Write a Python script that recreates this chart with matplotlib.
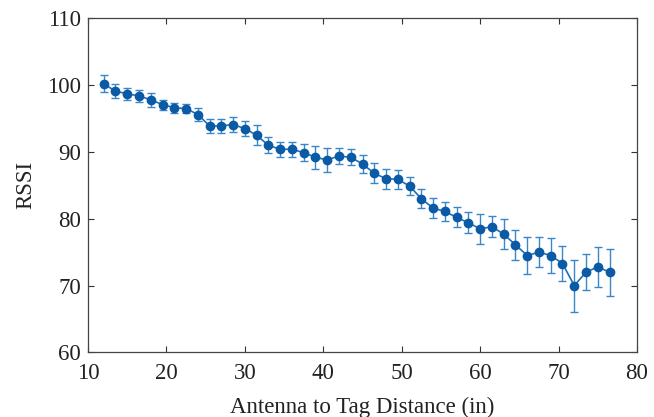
import matplotlib

matplotlib.use("Agg")
import matplotlib.pyplot as plt

# khoang cach (inch) va RSSI doc tu hinh goc
distance = [12 + 1.5 * i for i in range(44)]
rssi = [
    100.2, 99.1, 98.7, 98.4, 97.8, 97.1, 96.6, 96.5, 95.6, 93.9,
    93.9, 94.1, 93.5, 92.5, 91.0, 90.4, 90.4, 89.9, 89.2, 88.8,
    89.4, 89.2, 88.2, 86.8, 86.0, 85.9, 84.9, 83.0, 81.6, 81.1,
    80.2, 79.4, 78.5, 78.8, 77.7, 76.1, 74.5, 75.0, 74.5, 73.3,
    70.0, 72.0, 72.8, 72.0,
]
rssi_err = [
    1.25, 1.0, 0.9, 0.9, 1.0, 0.75, 0.75, 0.7, 0.95, 1.1,
    1.1, 1.1, 1.1, 1.5, 1.2, 1.1, 1.1, 1.3, 1.7, 1.75,
    1.2, 1.2, 1.3, 1.5, 1.5, 1.4, 1.35, 1.4, 1.5, 1.4,
    1.5, 1.55, 2.25, 1.55, 2.25, 2.25, 2.8, 2.25, 2.6, 2.55,
    3.9, 2.7, 3.0, 3.5,
]
x_ticks = [10, 20, 30, 40, 50, 60, 70, 80]
y_ticks = [60, 70, 80, 90, 100, 110]

plt.rcParams["font.family"] = ["Liberation Serif", "DejaVu Serif"]
plt.rcParams["font.size"] = 16.5

fig = plt.figure(figsize=(6.54, 4.17), dpi=100)
ax = fig.add_axes([0.1346, 0.155, 0.8394, 0.801])

ax.errorbar(
    distance, rssi, yerr=rssi_err,
    color="#1f6fb5", ecolor="#3a86c8", elinewidth=1.0, capsize=3, capthick=1.0,
    marker="o", markersize=6, markerfacecolor="#0b5aa6", markeredgecolor="#0b5aa6",
    linewidth=1.2,
)

ax.set_xlim(10, 80)
ax.set_ylim(60, 110)
ax.set_xticks(x_ticks)
ax.set_yticks(y_ticks)
ax.tick_params(direction="in", top=True, right=True, length=4, width=0.8,
               colors="#333333", labelcolor="#222222")
ax.tick_params(axis="x", pad=8)
ax.tick_params(axis="y", pad=5)
for s in ax.spines.values():
    s.set_color("#444444")
    s.set_linewidth(0.9)

ax.set_xlabel("Antenna to Tag Distance (in)", color="#222222", labelpad=9)
ax.set_ylabel("RSSI", color="#222222", labelpad=8)

fig.savefig("out.png", dpi=100)
